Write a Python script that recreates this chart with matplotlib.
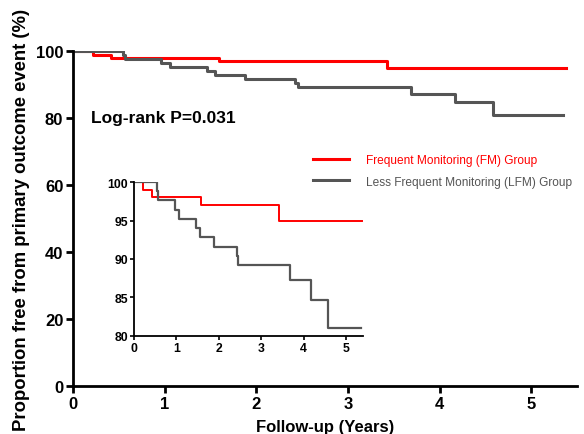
import matplotlib
matplotlib.use("Agg")
import matplotlib.pyplot as plt

plt.rcParams['font.family'] = ['Liberation Sans', 'DejaVu Sans']

# Kaplan-Meier step data (years, % event-free)
fm_time = [0, 0.22, 0.42, 1.59, 3.43, 5.38]
fm_surv = [100, 99.0, 98.0, 97.0, 95.0, 95.0]
lfm_time = [0, 0.55, 0.57, 0.96, 1.06, 1.46, 1.55, 1.88, 2.42, 2.46, 3.69, 4.17, 4.58, 5.35]
lfm_surv = [100, 98.8, 97.6, 96.4, 95.2, 94.0, 92.8, 91.6, 90.4, 89.2, 87.3, 84.7, 81.1, 81.1]

main_yticks = [0, 20, 40, 60, 80, 100]
main_xticks = [0, 1, 2, 3, 4, 5]
inset_yticks = [80, 85, 90, 95, 100]

red = '#ff0000'
gray = '#555555'

fig = plt.figure(figsize=(5.84, 4.35), dpi=100)
ax = fig.add_axes([0.125, 0.110, 0.863, 0.770])

ax.step(fm_time, fm_surv, where='post', color=red, lw=2.2, label='Frequent Monitoring (FM) Group')
ax.step(lfm_time, lfm_surv, where='post', color=gray, lw=2.2, label='Less Frequent Monitoring (LFM) Group')
ax.set_xlim(0, 5.5)
ax.set_ylim(0, 100)
ax.set_xticks(main_xticks)
ax.set_yticks(main_yticks)
for s in ['top', 'right']:
    ax.spines[s].set_visible(False)
for s in ['left', 'bottom']:
    ax.spines[s].set_linewidth(2)
ax.tick_params(width=2, length=5, labelsize=12, pad=2)
for lab in ax.get_xticklabels() + ax.get_yticklabels():
    lab.set_fontweight('bold')
ax.set_xlabel('Follow-up (Years)', fontsize=12, fontweight='bold', labelpad=6)
ax.set_ylabel('Proportion free from primary outcome event (%)', fontsize=13.3, fontweight='bold', labelpad=4)
ax.text(0.2, 80.3, 'Log-rank P=0.031', fontsize=12.5, fontweight='bold', va='center')

leg = ax.legend(loc='upper left', bbox_to_anchor=(0.455, 0.725), frameon=False, fontsize=8.6,
                handlelength=3.0, handletextpad=1.4, labelspacing=0.8)
for txt, c in zip(leg.get_texts(), [red, gray]):
    txt.set_color(c)

# inset zoom panel
ins = fig.add_axes([0.2295, 0.2253, 0.392, 0.354])
ins.step(fm_time, fm_surv, where='post', color=red, lw=1.4)
ins.step(lfm_time, lfm_surv, where='post', color=gray, lw=1.6)
ins.set_xlim(0, 5.4)
ins.set_ylim(80, 100)
ins.set_xticks(main_xticks)
ins.set_yticks(inset_yticks)
for s in ['top', 'right']:
    ins.spines[s].set_visible(False)
for s in ['left', 'bottom']:
    ins.spines[s].set_linewidth(1.3)
ins.tick_params(width=1.2, length=3, labelsize=8.8, pad=1.5)
for lab in ins.get_xticklabels() + ins.get_yticklabels():
    lab.set_fontweight('bold')

fig.savefig('out.png', dpi=100)
